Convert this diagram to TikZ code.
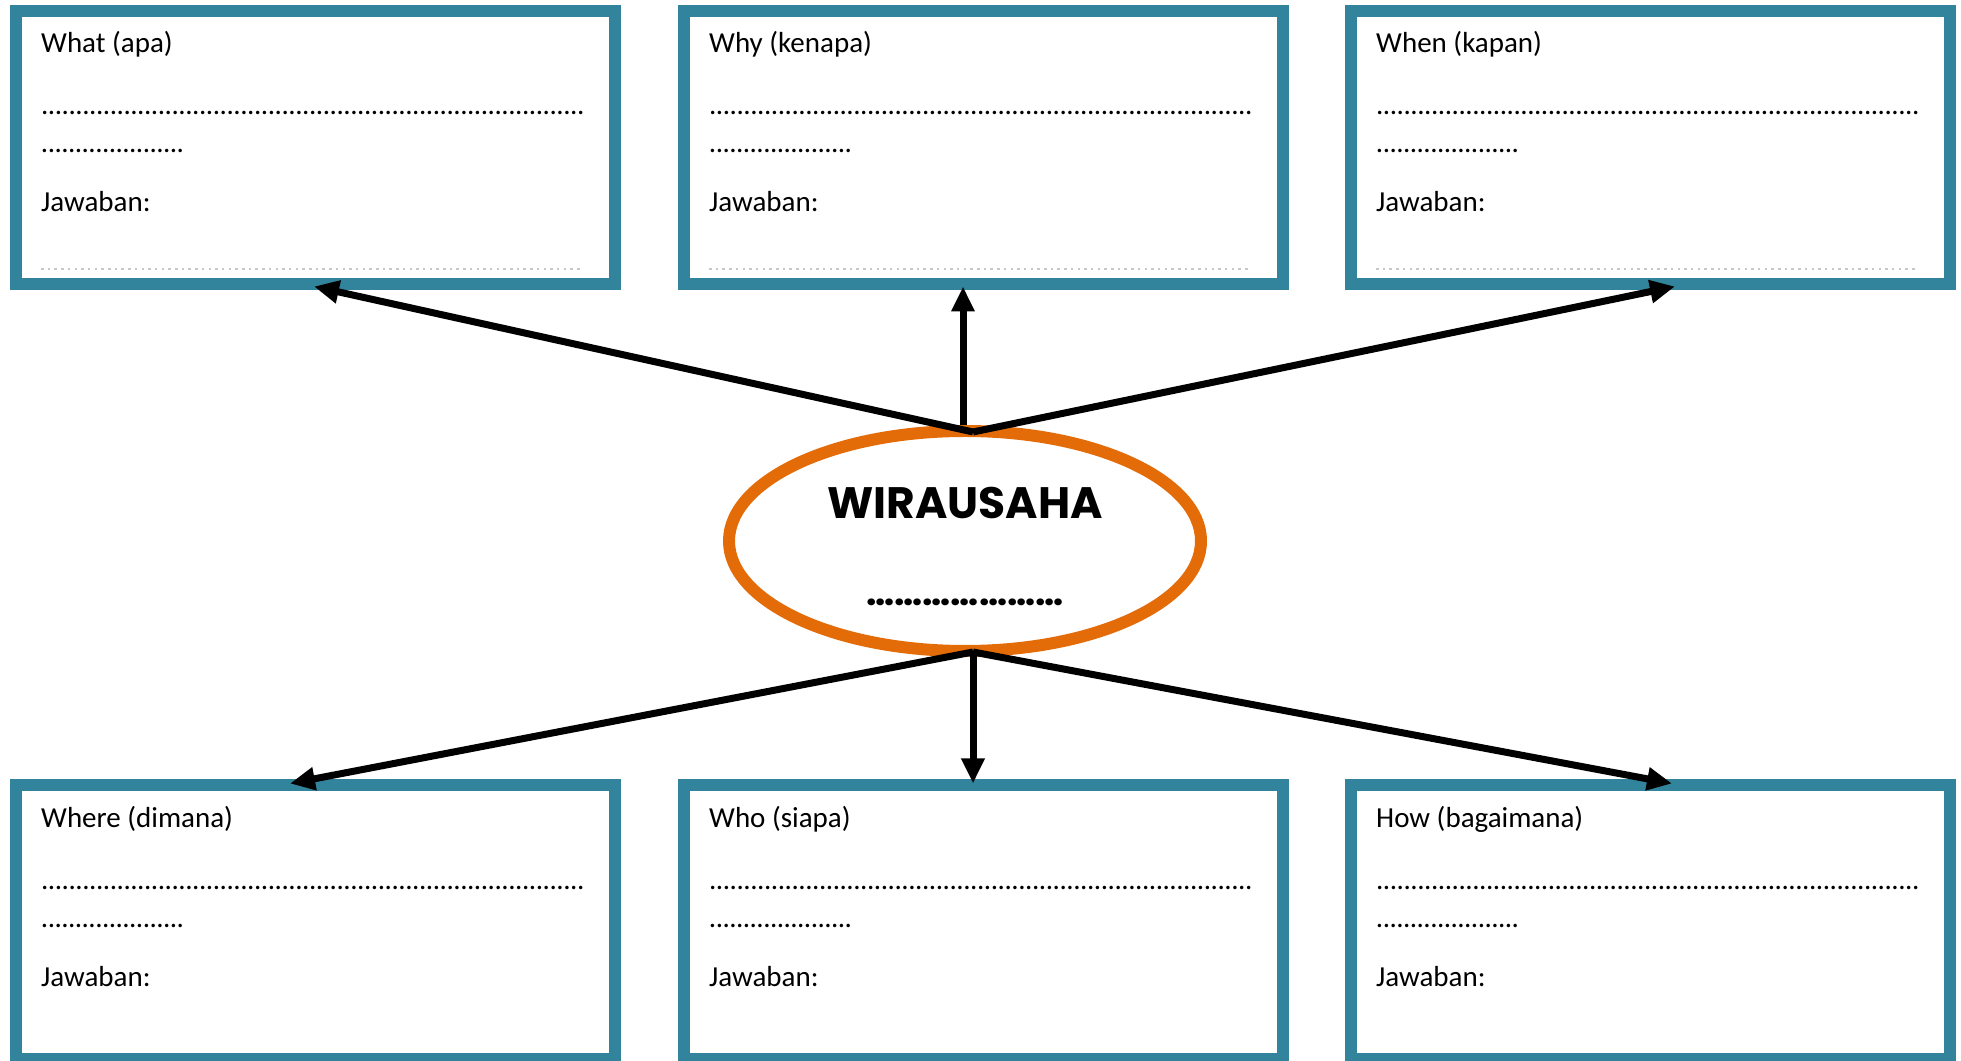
\documentclass[tikz,border=0pt]{standalone}
\usepackage{fontspec}
\setmainfont{Carlito}
\newfontfamily\titlefont{Poppins}
\usetikzlibrary{arrows.meta,positioning,shapes.geometric}
\definecolor{boxteal}{HTML}{31849B}
\definecolor{wiraorange}{HTML}{E36C09}
\definecolor{linegray}{HTML}{C8C8C8}
\newcommand{\dotrow}[1]{\hbox to #1{\xleaders\hbox to 6.8pt{\hss.\hss}\hfill}}
\tikzset{
  qbox/.style={draw=boxteal,line width=12pt,minimum width=599pt,minimum height=273.5pt,inner sep=0pt},
  qtext/.style={anchor=base west,inner sep=0pt,font=\fontsize{29}{35}\selectfont},
  answerline/.style={draw=linegray,line width=1.2pt,dash pattern=on 2.5pt off 4.2pt},
  pointer/.style={line width=7pt,-{Triangle[length=25pt,width=22pt]}},
}

\begin{document}
\begin{tikzpicture}[x=1pt,y=1pt]
\useasboundingbox (0,0) rectangle (1961,1060);

\node[qbox] (what)  at (315.5,912.25)  {};
\node[qbox] (why)   at (983.5,912.25)  {};
\node[qbox] (when)  at (1650.5,912.25) {};
\node[qbox] (where) at (315.5,137.75)  {};
\node[qbox] (who)   at (983.5,137.75)  {};
\node[qbox] (how)   at (1650.5,137.75) {};

\foreach \b/\t in {what/What (apa),why/Why (kenapa),when/When (kapan),
                   where/Where (dimana),who/Who (siapa),how/How (bagaimana)} {
  \node[qtext] (\b-title) at ([shift={(31,-48)}]\b.north west)  {\t};
  \node[qtext] (\b-dots)  at ([shift={(31,-110)}]\b.north west) {\dotrow{544pt}};
  \node[qtext] (\b-more)  at ([shift={(31,-148)}]\b.north west) {\dotrow{142.8pt}};
  \node[qtext] (\b-ans)   at ([shift={(31,-207)}]\b.north west) {Jawaban:};
}
\foreach \b in {what,why,when}
  \draw[answerline] ([shift={(31,-264)}]\b.north west) -- ([shift={(573,-264)}]\b.north west);

\node[draw=wiraorange,line width=12pt,ellipse,minimum width=472pt,minimum height=220pt,inner sep=0pt] (wira) at (965,519) {};
\node[font=\titlefont\bfseries\fontsize{44}{44}\selectfont] (wira-title) at ([yshift=38]wira.center) {WIRAUSAHA};
\node[font=\titlefont\bfseries\fontsize{37}{37}\selectfont,anchor=base] (wira-dots) at ([yshift=-65]wira.center) {…………………};

\coordinate (up)   at ([xshift=8,yshift=-7]wira.north);
\coordinate (down) at ([xshift=8,yshift=5]wira.south);

\path[pointer] (up) edge ([xshift=-1.5,yshift=4]what.south)
  ([xshift=-2]wira.north) edge ([xshift=-20.5,yshift=4]why.south)
  (up) edge ([xshift=24.5,yshift=4]when.south)
  (down) edge ([xshift=-25.5,yshift=-4]where.north)
  (down) edge ([xshift=-10.5,yshift=-4]who.north)
  (down) edge ([xshift=21.5,yshift=-4]how.north);

\end{tikzpicture}
\end{document}
